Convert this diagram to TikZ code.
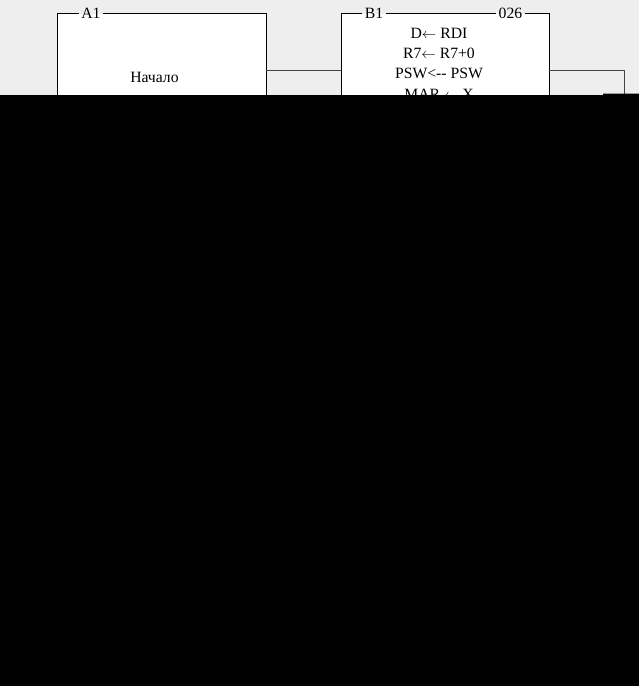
\documentclass[tikz,border=0pt]{standalone}
\usepackage{fontspec}
\setmainfont{Liberation Serif}
\definecolor{bgray}{HTML}{EEEEEE}
\definecolor{lgray}{HTML}{444444}
\newcommand{\larr}{$\leftarrow$}
\tikzset{
	blk/.style={fill=white,inner sep=0pt,minimum width=208pt,minimum height=160pt,anchor=north west},
	tag/.style={inner sep=2.5pt,anchor=base,font=\fontsize{15.7}{18}\selectfont},
	txt/.style={inner sep=0pt,anchor=base,font=\fontsize{15.7}{18}\selectfont},
	link/.style={lgray,line width=1pt}
}
\begin{document}
\begin{tikzpicture}[x=1pt,y=-1pt]
	\useasboundingbox (0,0) rectangle (639,686);
	\fill[bgray] (0,0) rectangle (639,686);
	\node[blk] (a1) at (57.5,13.3) {};
	\node[blk] (b1) at (341,13.3) {};
	\node[tag] (a1n) at (91,18) {A1};
	\node[tag] (b1n) at (374,18) {B1};
	\node[tag] (b1c) at (510.5,18) {026};
	% box borders, broken at the tags
	\draw (a1n.west |- a1.north) -- (a1.north west) -- (a1.south west);
	\draw (a1n.east |- a1.north) -- (a1.north east) -- (a1.south east);
	\draw (b1n.west |- b1.north) -- (b1.north west) -- (b1.south west);
	\draw (b1n.east |- b1.north) -- (b1c.west |- b1.north);
	\draw (b1c.east |- b1.north) -- (b1.north east) -- (b1.south east);
	\node[txt] (a1t) at (154.5,82) {Начало};
	\foreach \t [count=\i] in {D\larr{} RDI, R7\larr{} R7+0, PSW<-{}- PSW, MAR \larr{} X}
		\node[txt] (b1l\i) at (439,{38.3+20.3*(\i-1)}) {\t};
	\coordinate (r1) at (624.3,100);
	\draw[link] (a1.east |- 0,70) -- (b1.west |- 0,70);
	\draw[link] (b1.east |- 0,70) -| (r1);
	\fill[black] (0,95) -- (603,95) -- (603,93.5) -- (639,93.5) |- (0,686) -- cycle;
\end{tikzpicture}
\end{document}
